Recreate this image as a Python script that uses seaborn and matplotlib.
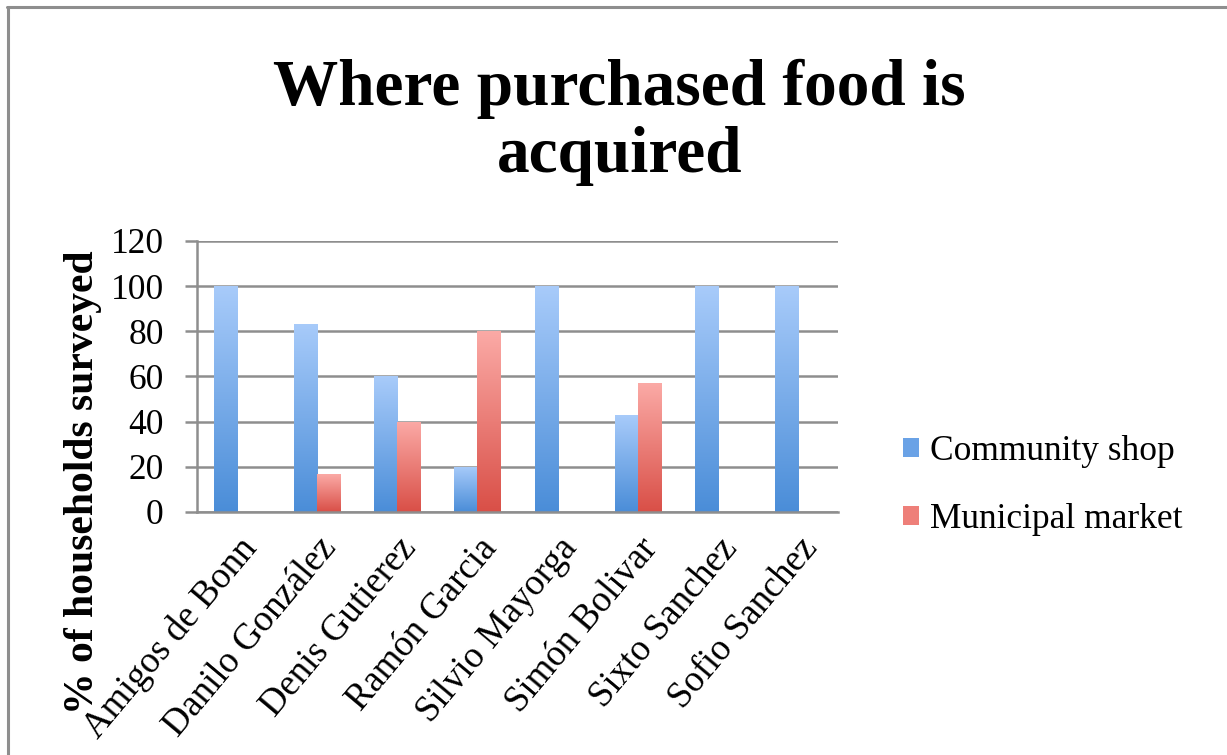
import numpy as np
import pandas as pd
import matplotlib
matplotlib.use("Agg")
import matplotlib.pyplot as plt
from matplotlib.colors import LinearSegmentedColormap
from matplotlib.patches import Patch
from matplotlib.lines import Line2D
import seaborn as sns

communities = ["Amigos de Bonn", "Danilo González", "Denis Gutierez", "Ramón Garcia",
               "Silvio Mayorga", "Simón Bolivar", "Sixto Sanchez", "Sofio Sanchez"]
community_shop = [100, 83.3, 60, 20, 100, 42.9, 100, 100]
municipal_market = [0, 16.7, 40, 80, 0, 57.1, 0, 0]
series_names = ["Community shop", "Municipal market"]
y_ticks = [0, 20, 40, 60, 80, 100, 120]

df = pd.DataFrame({
    "community": communities * 2,
    "value": community_shop + municipal_market,
    "source": [series_names[0]] * len(communities) + [series_names[1]] * len(communities),
})

sns.set_theme(style="white")
plt.rcParams["font.family"] = ["Liberation Serif", "DejaVu Serif"]
plt.rcParams["text.color"] = "black"
plt.rcParams["xtick.labelcolor"] = "black"
plt.rcParams["ytick.labelcolor"] = "black"

GRAY = "#8e8e8e"
blue_map = LinearSegmentedColormap.from_list("blue", ["#4a8dd8", "#a8cbfa"])
red_map = LinearSegmentedColormap.from_list("red", ["#d94f47", "#fbaaa6"])

fig = plt.figure(figsize=(12.27, 7.55), dpi=100)
ax = fig.add_axes([0.1606, 0.3219, 0.5224, 0.3589])

sns.barplot(data=df, x="community", y="value", hue="source", order=communities,
            hue_order=series_names, palette=["#75a9e8", "#ee7e78"], width=0.575,
            gap=0, legend=False, linewidth=0, ax=ax, zorder=3)

# vertical gradient fill, clipped to each bar
grad = np.linspace(0, 1, 256).reshape(-1, 1)
for container, cmap in zip(ax.containers, [blue_map, red_map]):
    for bar in container:
        h = bar.get_height()
        if h <= 0:
            bar.set_visible(False)
            continue
        x0, w = bar.get_x(), bar.get_width()
        im = ax.imshow(grad, extent=[x0, x0 + w, 0, h], origin="lower", aspect="auto",
                       cmap=cmap, zorder=3.5, interpolation="bilinear")
        im.set_clip_path(bar)
        bar.set_facecolor("none")

ax.set_xlim(-0.5, len(communities) - 0.5)
ax.set_ylim(0, 120)
ax.set_aspect("auto")
ax.set_yticks(y_ticks)
ax.set_yticklabels([str(v) for v in y_ticks], fontsize=25.5, color="black")
ax.set_xticks(range(len(communities)))
ax.set_xticklabels(communities, fontsize=26.5, rotation=50, ha="right",
                   rotation_mode="anchor", color="black")
ax.set_xticks(np.arange(-0.5, len(communities)), minor=True)
ax.tick_params(axis="x", which="major", length=0, pad=14)
ax.tick_params(axis="x", which="minor", length=9, width=1.8, color=GRAY, direction="out")
ax.tick_params(axis="y", length=9, width=1.8, color=GRAY, direction="out", pad=15, left=True)
ax.set_xlabel("")
ax.set_ylabel("")

ax.yaxis.grid(True, color=GRAY, linewidth=1.8, zorder=0)
ax.set_axisbelow(True)
for side in ["top", "right"]:
    ax.spines[side].set_visible(False)
for side in ["left", "bottom"]:
    ax.spines[side].set_color(GRAY)
    ax.spines[side].set_linewidth(1.8)
    ax.spines[side].set_zorder(5)

fig.text(0.068, 0.361, "% of households surveyed", rotation=90, ha="center",
         va="center", fontsize=30, fontweight="bold")
fig.text(0.505, 0.838, "Where purchased food is\nacquired", ha="center", va="center",
         fontsize=47, fontweight="bold", linespacing=1.15)

handles = [Patch(facecolor="#6aa2e6", edgecolor="none"),
           Patch(facecolor="#ee7f79", edgecolor="none")]
fig.legend(handles, series_names, loc="center left", bbox_to_anchor=(0.71, 0.357),
           frameon=False, fontsize=25.5, handlelength=0.45, handleheight=0.45,
           handletextpad=0.3, labelspacing=1.0)

# outer chart border
fig.add_artist(Line2D([7 / 1227, 1], [1 - 6.5 / 755] * 2, color=GRAY, linewidth=2.2,
                      transform=fig.transFigure))
fig.add_artist(Line2D([8 / 1227] * 2, [0, 1 - 6.5 / 755], color=GRAY, linewidth=2.2,
                      transform=fig.transFigure))

fig.savefig("out.png", dpi=100, facecolor="white")
